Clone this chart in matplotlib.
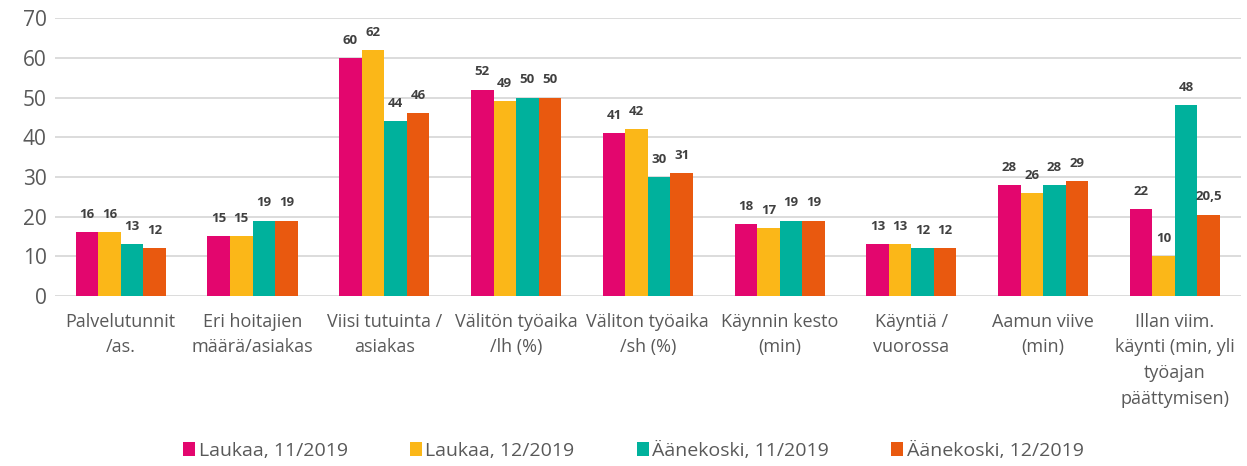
import matplotlib
matplotlib.use("Agg")
import matplotlib.pyplot as plt
import numpy as np

plt.rcParams['font.family'] = ['Open Sans', 'DejaVu Sans']

categories = ["Palvelutunnit\n/as.", "Eri hoitajien\nmäärä/asiakas", "Viisi tutuinta /\nasiakas",
              "Välitön työaika\n/lh (%)", "Väliton työaika\n/sh (%)", "Käynnin kesto\n(min)",
              "Käyntiä /\nvuorossa", "Aamun viive\n(min)",
              "Illan viim.\nkäynti (min, yli\ntyöajan\npäättymisen)"]
series_names = ["Laukaa, 11/2019", "Laukaa, 12/2019", "Äänekoski, 11/2019", "Äänekoski, 12/2019"]
laukaa_11 = [16, 15, 60, 52, 41, 18, 13, 28, 22]
laukaa_12 = [16, 15, 62, 49, 42, 17, 13, 26, 10]
aanekoski_11 = [13, 19, 44, 50, 30, 19, 12, 28, 48]
aanekoski_12 = [12, 19, 46, 50, 31, 19, 12, 29, 20.5]
colors = ["#E3066E", "#FBB718", "#00B19C", "#E9590F"]

series = [laukaa_11, laukaa_12, aanekoski_11, aanekoski_12]

fig = plt.figure(figsize=(12.47, 4.66), dpi=100)
ax = fig.add_axes([0.044, 0.365, 0.951, 0.596])

x = np.arange(len(categories))
w = 0.171
for i, (vals, name, c) in enumerate(zip(series, series_names, colors)):
    pos = x + (i - 1.5) * w
    bars = ax.bar(pos, vals, w, color=c, label=name, zorder=3)
    labels = [("%g" % v).replace(".", ",") for v in vals]
    ax.bar_label(bars, labels=labels, padding=8, fontsize=9.5, fontweight='bold', color='#404040')

ax.set_ylim(0, 70)
ax.set_xlim(-0.5, len(categories) - 0.5)
ax.set_yticks(range(0, 71, 10))
ax.yaxis.grid(True, color='#D9D9D9', linewidth=1.3, zorder=0)
for s in ax.spines.values():
    s.set_visible(False)
ax.tick_params(axis='both', length=0, colors='#595959')
ax.tick_params(axis='y', labelsize=15, pad=6)
ax.set_xticks(x)
ax.set_xticklabels(categories, fontsize=13, color='#595959', linespacing=1.55)
ax.tick_params(axis='x', pad=12)

leg = fig.legend(loc='lower center', bbox_to_anchor=(0.508, -0.025), ncol=4, frameon=False,
                 fontsize=14, handlelength=0.6, handleheight=0.75, columnspacing=3.2, handletextpad=0.2)
for t in leg.get_texts():
    t.set_color('#595959')

fig.savefig("out.png", dpi=100)
